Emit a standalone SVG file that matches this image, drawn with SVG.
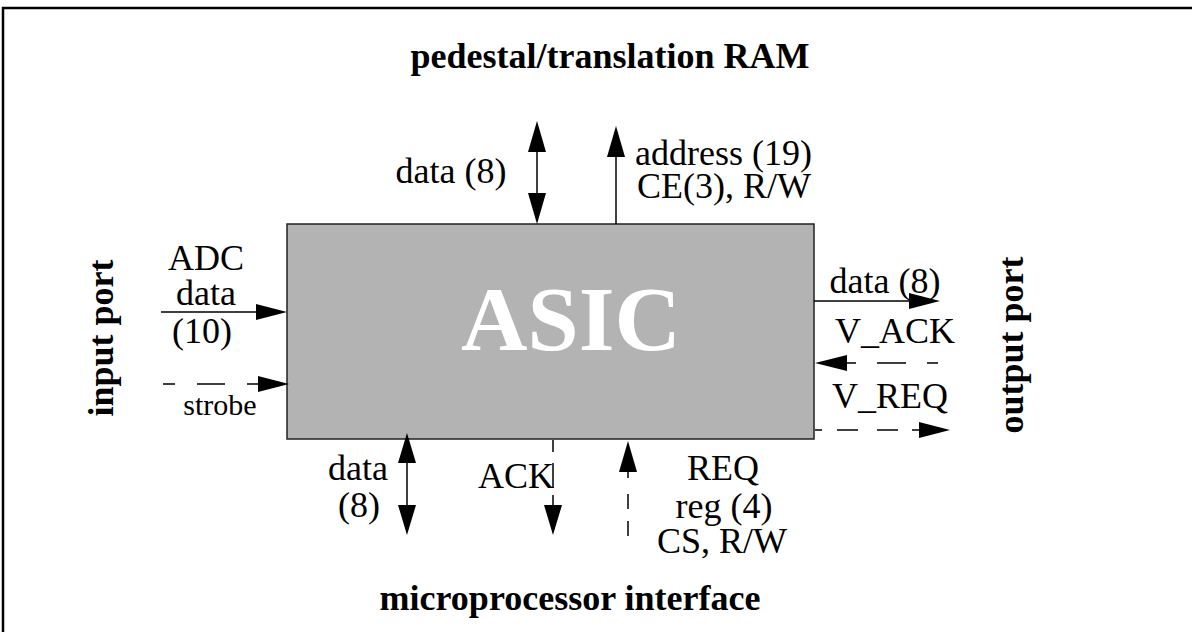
<svg xmlns="http://www.w3.org/2000/svg" width="1192" height="632" viewBox="0 0 1192 632">
<style>
.t{font-family:"Liberation Serif","Times New Roman",serif;font-size:36px;fill:#000}
.b{font-weight:bold}
.m{text-anchor:middle}
.ln{stroke:#000;stroke-width:1.5;fill:none}
.d1{stroke-dasharray:28 22}
.hd{fill:#000;stroke:none}
</style>
<rect x="0" y="0" width="1192" height="632" fill="#fff"/>
<rect x="3" y="8" width="1200" height="640" fill="none" stroke="#000" stroke-width="2.5"/>
<g id="title-ram"><text class="t b m" x="610" y="68">pedestal/translation RAM</text></g>
<g id="title-mpu"><text class="t b m" x="570" y="610">microprocessor interface</text></g>
<g id="title-input"><text class="t b m" transform="translate(113,338) rotate(-90)">input port</text></g>
<g id="title-output"><text class="t b m" transform="translate(1023,345) rotate(-90)">output port</text></g>
<g id="asic">
<rect x="287" y="224" width="527" height="215" fill="#b3b3b3" stroke="#222" stroke-width="1.5"/>
<text class="t b m" x="571" y="350" style="font-size:92px;fill:#fff">ASIC</text>
</g>
<g id="connectors">
<line class="ln" x1="161" y1="312" x2="260" y2="312"/>
<polygon class="hd" points="287,312 256,304 256,320"/>
<line class="ln d1" x1="163" y1="384" x2="262" y2="384" stroke-dashoffset="16"/>
<polygon class="hd" points="289,384 258,376 258,392"/>
<line class="ln" x1="537" y1="148" x2="537" y2="196"/>
<polygon class="hd" points="537,121 528,152 546,152"/>
<polygon class="hd" points="537,224 528,193 546,193"/>
<line class="ln" x1="616" y1="154" x2="616" y2="224"/>
<polygon class="hd" points="616,126 607,157 625,157"/>
<line class="ln" x1="814" y1="301" x2="912" y2="301"/>
<polygon class="hd" points="940,301 909,293 909,309"/>
<line class="ln" x1="938" y1="363" x2="844" y2="363" stroke-dasharray="29 21" stroke-dashoffset="18"/>
<polygon class="hd" points="815,363 847,355 847,371"/>
<line class="ln" x1="815" y1="430" x2="922" y2="430" stroke-dasharray="7 15 21 19 21 14 30"/>
<polygon class="hd" points="950,430 919,422 919,438"/>
<line class="ln" x1="407" y1="460" x2="407" y2="508"/>
<polygon class="hd" points="407,433 398,463 416,463"/>
<polygon class="hd" points="407,535 398,505 416,505"/>
<line class="ln" x1="553" y1="440" x2="553" y2="507" stroke-dasharray="12 11 25 7 30"/>
<polygon class="hd" points="553,535 544,505 562,505"/>
<line class="ln" x1="628" y1="468" x2="628" y2="540" stroke-dasharray="10 16 15 12 15"/>
<polygon class="hd" points="628,441 619,472 637,472"/>
</g>
<g id="labels">
<text class="t m" x="451" y="183">data (8)</text>
<text class="t" x="635" y="165">address (19)</text>
<text class="t" x="637" y="198">CE(3), R/W</text>
<text class="t m" x="206" y="270">ADC</text>
<text class="t m" x="206" y="305">data</text>
<text class="t m" x="202" y="343">(10)</text>
<text class="t m" x="220" y="415" style="font-size:30px">strobe</text>
<text class="t m" x="885" y="293">data (8)</text>
<text class="t m" x="895" y="343">V_ACK</text>
<text class="t m" x="890" y="408">V_REQ</text>
<text class="t m" x="358" y="480">data</text>
<text class="t m" x="359" y="517">(8)</text>
<text class="t m" x="516" y="488">ACK</text>
<text class="t m" x="723" y="480">REQ</text>
<text class="t m" x="724" y="518">reg (4)</text>
<text class="t m" x="722" y="553">CS, R/W</text>
</g>
</svg>
